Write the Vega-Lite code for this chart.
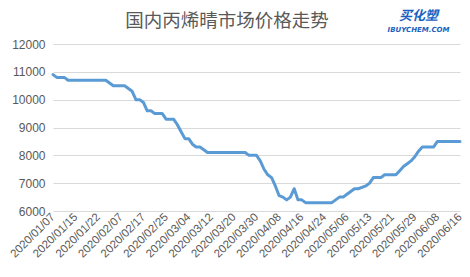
{
  "$schema": "https://vega.github.io/schema/vega-lite/v6.json",
  "width": 407,
  "height": 167,
  "autosize": {"type": "none"},
  "padding": {"left": 53, "top": 44, "right": 10, "bottom": 66},
  "background": "white",
  "config": {"view": {"stroke": null}},
  "layer": [
    {
      "data": {
        "values": [
          {"i":0,"v":10900},{"i":1,"v":10800},{"i":2,"v":10800},{"i":3,"v":10800},{"i":4,"v":10700},
          {"i":5,"v":10700},{"i":6,"v":10700},{"i":7,"v":10700},{"i":8,"v":10700},{"i":9,"v":10700},
          {"i":10,"v":10700},{"i":11,"v":10700},{"i":12,"v":10700},{"i":13,"v":10700},{"i":14,"v":10700},
          {"i":15,"v":10600},{"i":16,"v":10500},{"i":17,"v":10500},{"i":18,"v":10500},{"i":19,"v":10500},
          {"i":20,"v":10400},{"i":21,"v":10300},{"i":22,"v":10000},{"i":23,"v":10000},{"i":24,"v":9900},
          {"i":25,"v":9600},{"i":26,"v":9600},{"i":27,"v":9500},{"i":28,"v":9500},{"i":29,"v":9500},
          {"i":30,"v":9300},{"i":31,"v":9300},{"i":32,"v":9300},{"i":33,"v":9100},{"i":34,"v":8850},
          {"i":35,"v":8600},{"i":36,"v":8600},{"i":37,"v":8400},{"i":38,"v":8300},{"i":39,"v":8300},
          {"i":40,"v":8200},{"i":41,"v":8100},{"i":42,"v":8100},{"i":43,"v":8100},{"i":44,"v":8100},
          {"i":45,"v":8100},{"i":46,"v":8100},{"i":47,"v":8100},{"i":48,"v":8100},{"i":49,"v":8100},
          {"i":50,"v":8100},{"i":51,"v":8100},{"i":52,"v":8000},{"i":53,"v":8000},{"i":54,"v":8000},
          {"i":55,"v":7800},{"i":56,"v":7500},{"i":57,"v":7300},{"i":58,"v":7200},{"i":59,"v":6900},
          {"i":60,"v":6550},{"i":61,"v":6500},{"i":62,"v":6400},{"i":63,"v":6500},{"i":64,"v":6800},
          {"i":65,"v":6400},{"i":66,"v":6400},{"i":67,"v":6300},{"i":68,"v":6300},{"i":69,"v":6300},
          {"i":70,"v":6300},{"i":71,"v":6300},{"i":72,"v":6300},{"i":73,"v":6300},{"i":74,"v":6300},
          {"i":75,"v":6400},{"i":76,"v":6500},{"i":77,"v":6500},{"i":78,"v":6600},{"i":79,"v":6700},
          {"i":80,"v":6800},{"i":81,"v":6800},{"i":82,"v":6850},{"i":83,"v":6900},{"i":84,"v":7000},
          {"i":85,"v":7200},{"i":86,"v":7200},{"i":87,"v":7200},{"i":88,"v":7300},{"i":89,"v":7300},
          {"i":90,"v":7300},{"i":91,"v":7300},{"i":92,"v":7450},{"i":93,"v":7600},{"i":94,"v":7700},
          {"i":95,"v":7800},{"i":96,"v":7950},{"i":97,"v":8150},{"i":98,"v":8300},{"i":99,"v":8300},
          {"i":100,"v":8300},{"i":101,"v":8300},{"i":102,"v":8500},{"i":103,"v":8500},{"i":104,"v":8500},
          {"i":105,"v":8500},{"i":106,"v":8500},{"i":107,"v":8500},{"i":108,"v":8500}
        ]
      },
      "mark": {"type": "line", "color": "#5b9bd5", "strokeWidth": 3, "strokeJoin": "round", "strokeCap": "round"},
      "encoding": {
        "x": {
          "field": "i",
          "type": "quantitative",
          "scale": {"domain": [0, 108], "nice": false, "zero": false},
          "axis": {
            "title": null,
            "values": [0,6,12,18,24,30,36,42,48,54,60,66,72,78,84,90,96,102,108],
            "labelExpr": "['2020/01/07','2020/01/15','2020/01/22','2020/02/07','2020/02/17','2020/02/25','2020/03/04','2020/03/12','2020/03/20','2020/03/30','2020/04/08','2020/04/16','2020/04/24','2020/05/06','2020/05/13','2020/05/21','2020/05/29','2020/06/08','2020/06/16'][round(datum.value/6)]",
            "labelAngle": -45,
            "labelAlign": "right",
            "labelBaseline": "middle",
            "labelFont": "Liberation Sans",
            "labelFontSize": 11.5,
            "labelColor": "#595959",
            "labelPadding": 4,
            "labelOverlap": false,
            "labelFlush": false,
            "ticks": false,
            "domain": false,
            "grid": false
          }
        },
        "y": {
          "field": "v",
          "type": "quantitative",
          "scale": {"domain": [6000, 12000], "nice": false, "zero": false},
          "axis": {
            "title": null,
            "values": [6000,7000,8000,9000,10000,11000,12000],
            "format": "d",
            "labelFont": "Liberation Sans",
            "labelFontSize": 12,
            "labelColor": "#595959",
            "labelPadding": 8,
            "labelOverlap": false,
            "labelFlush": false,
            "ticks": false,
            "domain": false,
            "grid": true,
            "gridColor": "#d9d9d9",
            "gridWidth": 1
          }
        }
      }
    },
    {
      "data": {"values": [{"t": "国内丙烯晴市场价格走势"}]},
      "mark": {"type": "text", "font": "Noto Sans CJK SC", "fontSize": 18.5, "fontWeight": "normal", "color": "#595959", "align": "center", "baseline": "middle"},
      "encoding": {
        "text": {"field": "t"},
        "x": {"datum": 46.2, "type": "quantitative", "axis": {
            "title": null,
            "values": [0,6,12,18,24,30,36,42,48,54,60,66,72,78,84,90,96,102,108],
            "labelExpr": "['2020/01/07','2020/01/15','2020/01/22','2020/02/07','2020/02/17','2020/02/25','2020/03/04','2020/03/12','2020/03/20','2020/03/30','2020/04/08','2020/04/16','2020/04/24','2020/05/06','2020/05/13','2020/05/21','2020/05/29','2020/06/08','2020/06/16'][round(datum.value/6)]",
            "labelAngle": -45, "labelAlign": "right", "labelBaseline": "middle", "labelFont": "Liberation Sans", "labelFontSize": 11.5, "labelColor": "#595959", "labelPadding": 4, "labelOverlap": false, "labelFlush": false, "ticks": false, "domain": false, "grid": false}},
        "y": {"datum": 12826, "type": "quantitative", "axis": {
            "title": null, "values": [6000,7000,8000,9000,10000,11000,12000], "format": "d", "labelFont": "Liberation Sans", "labelFontSize": 12, "labelColor": "#595959", "labelPadding": 8, "labelOverlap": false, "labelFlush": false, "ticks": false, "domain": false, "grid": true, "gridColor": "#d9d9d9", "gridWidth": 1}}
      }
    },
    {
      "data": {"values": [{"t": "买化塑"}]},
      "mark": {"type": "text", "font": "Noto Sans CJK SC", "fontSize": 13, "fontWeight": "bold", "fontStyle": "italic", "color": "#1b5fc0", "align": "center", "baseline": "middle"},
      "encoding": {
        "text": {"field": "t"},
        "x": {"datum": 97, "type": "quantitative", "axis": {
            "title": null,
            "values": [0,6,12,18,24,30,36,42,48,54,60,66,72,78,84,90,96,102,108],
            "labelExpr": "['2020/01/07','2020/01/15','2020/01/22','2020/02/07','2020/02/17','2020/02/25','2020/03/04','2020/03/12','2020/03/20','2020/03/30','2020/04/08','2020/04/16','2020/04/24','2020/05/06','2020/05/13','2020/05/21','2020/05/29','2020/06/08','2020/06/16'][round(datum.value/6)]",
            "labelAngle": -45, "labelAlign": "right", "labelBaseline": "middle", "labelFont": "Liberation Sans", "labelFontSize": 11.5, "labelColor": "#595959", "labelPadding": 4, "labelOverlap": false, "labelFlush": false, "ticks": false, "domain": false, "grid": false}},
        "y": {"datum": 12990, "type": "quantitative", "axis": {
            "title": null, "values": [6000,7000,8000,9000,10000,11000,12000], "format": "d", "labelFont": "Liberation Sans", "labelFontSize": 12, "labelColor": "#595959", "labelPadding": 8, "labelOverlap": false, "labelFlush": false, "ticks": false, "domain": false, "grid": true, "gridColor": "#d9d9d9", "gridWidth": 1}}
      }
    },
    {
      "data": {"values": [{"t": "IBUYCHEM.COM"}]},
      "mark": {"type": "text", "font": "DejaVu Sans", "fontSize": 7, "fontWeight": "bold", "fontStyle": "italic", "color": "#1b5fc0", "align": "center", "baseline": "middle"},
      "encoding": {
        "text": {"field": "t"},
        "x": {"datum": 97, "type": "quantitative", "axis": {
            "title": null,
            "values": [0,6,12,18,24,30,36,42,48,54,60,66,72,78,84,90,96,102,108],
            "labelExpr": "['2020/01/07','2020/01/15','2020/01/22','2020/02/07','2020/02/17','2020/02/25','2020/03/04','2020/03/12','2020/03/20','2020/03/30','2020/04/08','2020/04/16','2020/04/24','2020/05/06','2020/05/13','2020/05/21','2020/05/29','2020/06/08','2020/06/16'][round(datum.value/6)]",
            "labelAngle": -45, "labelAlign": "right", "labelBaseline": "middle", "labelFont": "Liberation Sans", "labelFontSize": 11.5, "labelColor": "#595959", "labelPadding": 4, "labelOverlap": false, "labelFlush": false, "ticks": false, "domain": false, "grid": false}},
        "y": {"datum": 12520, "type": "quantitative", "axis": {
            "title": null, "values": [6000,7000,8000,9000,10000,11000,12000], "format": "d", "labelFont": "Liberation Sans", "labelFontSize": 12, "labelColor": "#595959", "labelPadding": 8, "labelOverlap": false, "labelFlush": false, "ticks": false, "domain": false, "grid": true, "gridColor": "#d9d9d9", "gridWidth": 1}}
      }
    }
  ]
}
